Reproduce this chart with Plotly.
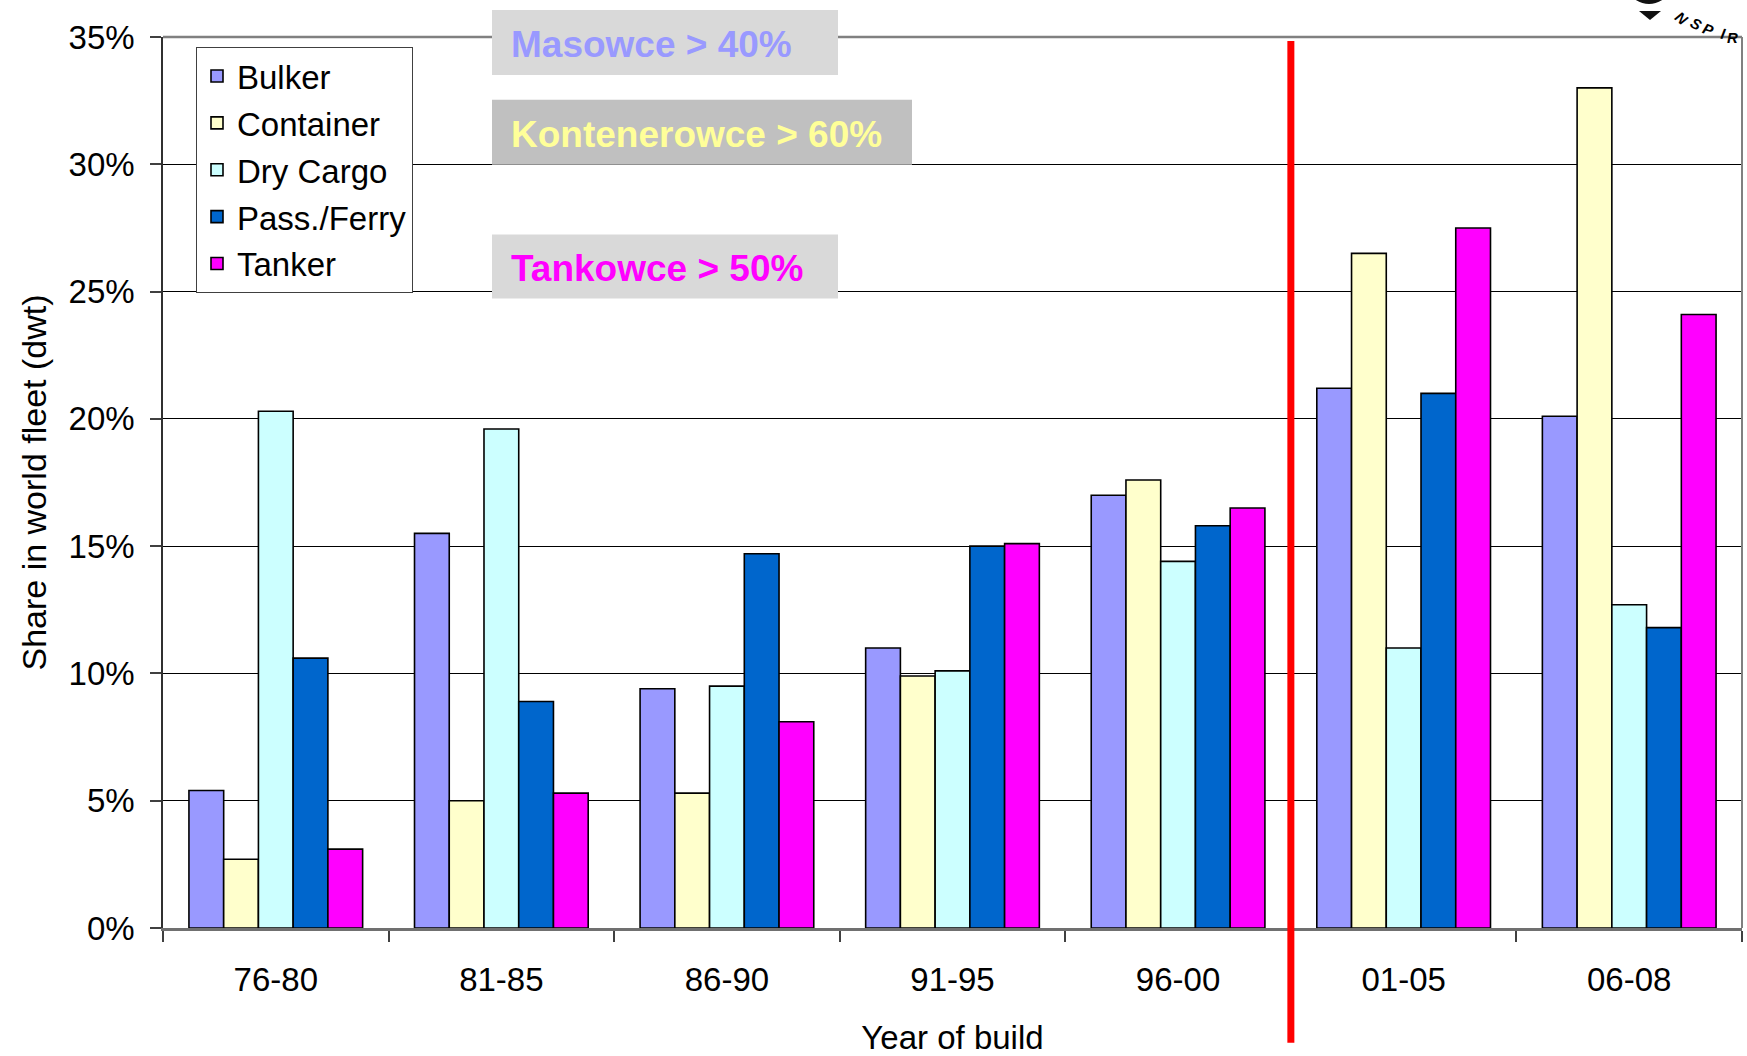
import plotly.graph_objects as go

# Share of world fleet (dwt) by year of build, per ship type
periods = ["76-80", "81-85", "86-90", "91-95", "96-00", "01-05", "06-08"]
bulker = [5.4, 15.5, 9.4, 11.0, 17.0, 21.2, 20.1]
container = [2.7, 5.0, 5.3, 9.9, 17.6, 26.5, 33.0]
dry_cargo = [20.3, 19.6, 9.5, 10.1, 14.4, 11.0, 12.7]
pass_ferry = [10.6, 8.9, 14.7, 15.0, 15.8, 21.0, 11.8]
tanker = [3.1, 5.3, 8.1, 15.1, 16.5, 27.5, 24.1]

series_names = ["Bulker", "Container", "Dry Cargo", "Pass./Ferry", "Tanker"]
series_values = [bulker, container, dry_cargo, pass_ferry, tanker]
series_colors = ["#9999FF", "#FFFFCC", "#CCFFFF", "#0066CC", "#FF00FF"]

y_ticks = [0, 5, 10, 15, 20, 25, 30, 35]
y_tick_labels = ["0%", "5%", "10%", "15%", "20%", "25%", "30%", "35%"]

callouts = ["Masowce > 40%", "Kontenerowce > 60%", "Tankowce > 50%"]
callout_colors = ["#9999FF", "#FFFF99", "#FF00FF"]
callout_fills = ["#D9D9D9", "#C0C0C0", "#D9D9D9"]

FONT = "Arial, Liberation Sans, sans-serif"
W, H = 1747, 1056
# plot area in page pixels
L, R, T, B = 163, 1742, 37, 930


def px(x):
    return (x - L) / (R - L)


def py(y):
    return (B - y) / (B - T)


fig = go.Figure()
for name, vals, col in zip(series_names, series_values, series_colors):
    fig.add_trace(go.Bar(
        x=periods, y=vals, name=name, legendgroup=name,
        marker=dict(color=col, line=dict(color="#000000", width=1.6)),
    ))

shapes = []
annotations = []

# grey frame on top and right of the plot area
shapes.append(dict(type="line", xref="paper", yref="paper", x0=0, x1=1, y0=1, y1=1,
                   line=dict(color="#808080", width=2.5), layer="above"))
shapes.append(dict(type="line", xref="paper", yref="paper", x0=1, x1=1, y0=0, y1=1,
                   line=dict(color="#808080", width=2), layer="above"))

# callout boxes
boxes = [(492, 838, 10, 75), (492, 912, 100, 165), (492, 838, 235, 299)]
for (x0, x1, y0, y1), txt, tc, fc in zip(boxes, callouts, callout_colors, callout_fills):
    shapes.append(dict(type="rect", xref="paper", yref="paper",
                       x0=px(x0), x1=px(x1), y0=py(y1), y1=py(y0),
                       fillcolor=fc, line=dict(width=0), layer="above"))
    annotations.append(dict(xref="paper", yref="paper", x=px(509), y=py((y0 + y1) / 2 + 2),
                            xanchor="left", yanchor="middle", showarrow=False,
                            text="<b>%s</b>" % txt,
                            font=dict(family=FONT, size=37, color=tc)))

# separator between 96-00 and 01-05
shapes.append(dict(type="line", xref="x", yref="paper", x0=4.5, x1=4.5,
                   y0=py(1045), y1=py(41), line=dict(color="#FF0000", width=7),
                   layer="above"))

# corner logo fragment
shapes.append(dict(type="path", xref="paper", yref="paper",
                   path="M %f %f L %f %f Q %f %f %f %f Z" % (
                       px(1633), py(-2), px(1665), py(-2), px(1649), py(10), px(1633), py(-2)),
                   fillcolor="#111111", line=dict(width=0), layer="above"))
shapes.append(dict(type="path", xref="paper", yref="paper",
                   path="M %f %f L %f %f L %f %f Z" % (px(1639), py(11), px(1661), py(11), px(1650), py(20)),
                   fillcolor="#111111", line=dict(width=0), layer="above"))
for ch, (lx, ly, ang) in zip("NSPIR", [(1695, 5, 40), (1707, 11, 30), (1719, 17, 20),
                                        (1730, 22, 10), (1740, 27, 0)]):
    annotations.append(dict(xref="paper", yref="paper", x=px(lx), y=py(ly), showarrow=False,
                            text="<b><i>%s</i></b>" % ch, textangle=ang,
                            font=dict(family=FONT, size=15, color="#000000")))

fig.update_layout(
    width=W, height=H,
    margin=dict(l=L, r=W - R, t=T, b=H - B),
    paper_bgcolor="#FFFFFF", plot_bgcolor="#FFFFFF",
    font=dict(family=FONT, size=33, color="#000000"),
    barmode="group", bargap=0.23, bargroupgap=0,
    showlegend=True,
    legend=dict(x=px(196), y=py(47), xanchor="left", yanchor="top",
                bgcolor="#FFFFFF", bordercolor="#404040", borderwidth=1,
                font=dict(family=FONT, size=33, color="#000000"),
                tracegroupgap=1, itemwidth=30),
    shapes=shapes, annotations=annotations,
)

fig.update_xaxes(
    type="category", tickson="boundaries", ticks="outside", ticklen=11,
    tickcolor="#404040", tickwidth=1.5,
    showline=True, linecolor="#707070", linewidth=2.5,
    showgrid=False,
    tickfont=dict(family=FONT, size=33),
    ticklabelstandoff=21,
    title=dict(text="Year of build", font=dict(family=FONT, size=33), standoff=30),
)
fig.update_yaxes(
    range=[0, 35], tickmode="array", tickvals=y_ticks, ticktext=y_tick_labels,
    ticks="outside", ticklen=11, tickcolor="#404040", tickwidth=1.5,
    showline=True, linecolor="#303030", linewidth=1.5,
    showgrid=True, gridcolor="#000000", gridwidth=1,
    zeroline=False,
    tickfont=dict(family=FONT, size=33),
    ticklabelstandoff=9,
    title=dict(text="Share in world fleet (dwt)", font=dict(family=FONT, size=34), standoff=12),
)

fig.write_html("out.html")
